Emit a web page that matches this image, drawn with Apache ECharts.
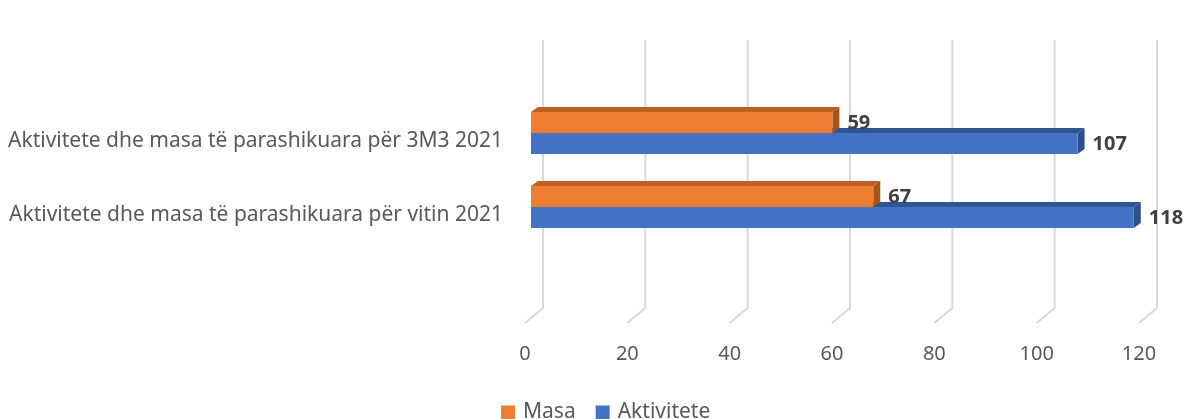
<!DOCTYPE html>
<html>
<head>
<meta charset="utf-8">
<script src="https://cdn.jsdelivr.net/npm/echarts@6/dist/echarts.min.js"></script>
<style>
html,body{margin:0;padding:0;background:#fff;}
#chart{width:1187px;height:419px;}
</style>
</head>
<body>
<div id="chart"></div>
<script>
var categories = ['Aktivitete dhe masa të parashikuara për 3M3 2021', 'Aktivitete dhe masa të parashikuara për vitin 2021'];
var seriesNames = ['Masa', 'Aktivitete'];
var masaValues = [59, 67];
var aktiviteteValues = [107, 118];
var tickValues = [0, 20, 40, 60, 80, 100, 120];

var FONT = '"Noto Sans", sans-serif';
var DEPTH_X = 7, DEPTH_Y = 5;

function barRenderer(front, top, side, upper) {
  return function (params, api) {
    var v = api.value(0), c = api.value(1);
    var band = api.size([0, 1])[1];
    var h = band * 0.285;
    var p0 = api.coord([0, c]);
    var p1 = api.coord([v, c]);
    var y0 = upper ? p0[1] - h : p0[1];
    var y1 = y0 + h;
    var x0 = p0[0], x1 = p1[0];
    return {
      type: 'group',
      children: [
        { type: 'polygon', shape: { points: [[x0, y0], [x1, y0], [x1 + DEPTH_X, y0 - DEPTH_Y], [x0 + DEPTH_X, y0 - DEPTH_Y]] }, style: { fill: top } },
        { type: 'polygon', shape: { points: [[x1, y0], [x1 + DEPTH_X, y0 - DEPTH_Y], [x1 + DEPTH_X, y1 - DEPTH_Y], [x1, y1]] }, style: { fill: side } },
        { type: 'rect', shape: { x: x0, y: y0, width: x1 - x0, height: h }, style: { fill: front } },
        { type: 'text', style: { text: String(v), x: x1 + DEPTH_X + 8, y: (y0 + y1) / 2 + 1, fill: '#404040', font: 'bold 20px ' + FONT, align: 'left', verticalAlign: 'middle' } }
      ]
    };
  };
}

var chart = echarts.init(document.getElementById('chart'));
chart.setOption({
  animation: false,
  backgroundColor: '#fff',
  grid: [
    { left: 531, width: 613, top: 96, height: 148 },
    { left: 543, width: 614, top: 40, height: 268 },
    { left: 525, width: 614, top: 40, height: 283 }
  ],
  xAxis: [
    { gridIndex: 0, type: 'value', min: 0, max: 120, interval: 20, show: false },
    { gridIndex: 1, type: 'value', min: 0, max: 120, interval: 20, show: false },
    { gridIndex: 2, type: 'value', min: 0, max: 120, interval: 20,
      axisLine: { show: false }, axisTick: { show: false }, splitLine: { show: false },
      axisLabel: { color: '#595959', fontSize: 20, fontFamily: FONT, margin: 21 } }
  ],
  yAxis: [
    { gridIndex: 0, type: 'category', inverse: true, data: categories,
      axisLine: { show: false }, axisTick: { show: false },
      axisLabel: { color: '#595959', fontSize: 21, fontFamily: FONT, margin: 28, verticalAlign: 'top', lineHeight: 16 } },
    { gridIndex: 1, type: 'value', min: 0, max: 1, show: false },
    { gridIndex: 2, type: 'value', min: 0, max: 1, show: false }
  ],
  legend: {
    data: seriesNames,
    top: 397,
    left: 496,
    icon: 'rect',
    itemWidth: 14, itemHeight: 14, itemGap: 20,
    textStyle: { color: '#595959', fontSize: 21, fontFamily: FONT, padding: [0, 0, 0, 3] }
  },
  series: [
    { type: 'custom', name: 'gridlines', xAxisIndex: 1, yAxisIndex: 1, silent: true,
      data: tickValues.map(function (t) { return [t]; }),
      renderItem: function (params, api) {
        var t = api.value(0);
        var a = api.coord([t, 1]), b = api.coord([t, 0]);
        return { type: 'polyline', shape: { points: [a, b, [b[0] - 18, b[1] + 15]] }, style: { stroke: '#d9d9d9', lineWidth: 2, fill: null } };
      }
    },
    { type: 'custom', name: 'Aktivitete', xAxisIndex: 0, yAxisIndex: 0, clip: false,
      itemStyle: { color: '#4472C4' },
      data: aktiviteteValues.map(function (v, i) { return [v, i]; }),
      encode: { x: 0, y: 1 },
      renderItem: barRenderer('#4472C4', '#2F5597', '#2E4F8C', false)
    },
    { type: 'custom', name: 'Masa', xAxisIndex: 0, yAxisIndex: 0, clip: false,
      itemStyle: { color: '#ED7D31' },
      data: masaValues.map(function (v, i) { return [v, i]; }),
      encode: { x: 0, y: 1 },
      renderItem: barRenderer('#ED7D31', '#BE5F22', '#A5531D', true)
    }
  ]
});
</script>
</body>
</html>
